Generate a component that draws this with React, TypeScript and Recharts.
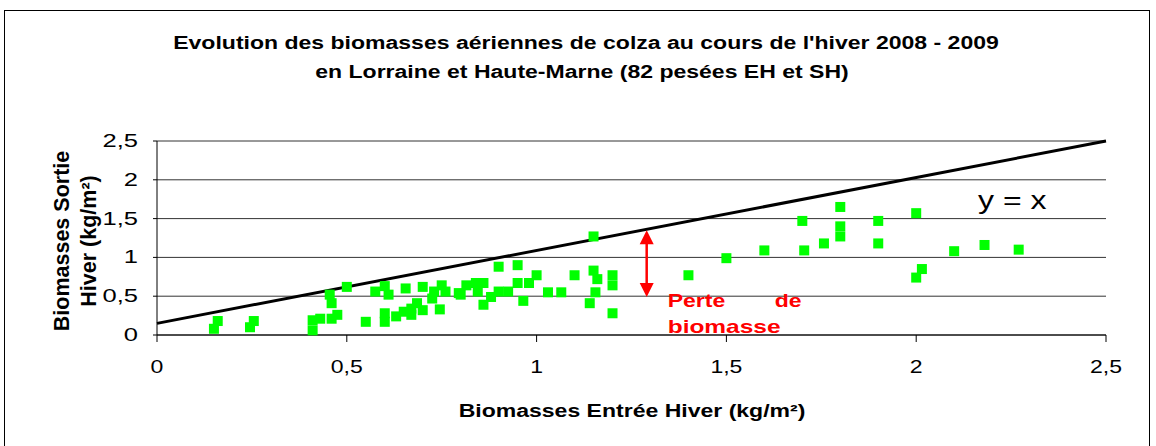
import * as React from 'react';
import {ScatterChart, Scatter, CartesianGrid, XAxis, YAxis, ReferenceLine} from "recharts";

// pesées : biomasse entrée hiver (x) / sortie hiver (y), kg/m²
const entreeHiver: number[] = [
    0.15, 0.16, 0.245, 0.255,
    0.41, 0.41, 0.43, 0.455, 0.46, 0.46, 0.475, 0.50, 0.55, 0.575, 0.60, 0.61, 0.60, 0.60,
    0.63, 0.655, 0.65, 0.67, 0.67, 0.70, 0.70, 0.725, 0.73, 0.75, 0.76, 0.745, 0.685,
    0.795, 0.80, 0.815, 0.84, 0.845, 0.86, 0.86, 0.88, 0.90, 0.90, 0.925, 0.95, 0.95, 0.965,
    0.98, 1.00, 1.03, 1.065, 1.10, 1.15, 1.16, 1.155, 1.14,
    1.15, 1.20, 1.20, 1.20, 1.40, 1.50,
    1.60, 1.70, 1.705, 1.757, 1.80, 1.80, 1.80, 1.90, 1.90,
    2.00, 2.00, 2.015, 2.10, 2.18, 2.27,
];
const sortieHiver: number[] = [
    0.08, 0.18, 0.10, 0.18,
    0.06, 0.19, 0.21, 0.52, 0.41, 0.21, 0.26, 0.62, 0.17, 0.56, 0.63, 0.52, 0.28, 0.17,
    0.24, 0.60, 0.30, 0.34, 0.26, 0.62, 0.32, 0.47, 0.56, 0.64, 0.56, 0.33, 0.41,
    0.54, 0.52, 0.64, 0.67, 0.56, 0.67, 0.39, 0.49, 0.88, 0.56, 0.56, 0.90, 0.67, 0.44,
    0.67, 0.77, 0.55, 0.55, 0.77, 0.83, 0.72, 0.55, 0.41,
    1.27, 0.77, 0.64, 0.28, 0.77, 0.99,
    1.09, 1.47, 1.09, 1.18, 1.65, 1.40, 1.27, 1.47, 1.18,
    1.57, 0.74, 0.85, 1.08, 1.16, 1.10,
];

const axisTicks = [0, 0.5, 1, 1.5, 2, 2.5];
// droite tracée "y = x"
const droiteX = [0, 2.5];
const droiteY = [0.15, 2.5];
// flèche perte de biomasse
const flecheX = 1.29;
const flecheY = [0.49, 1.35];

const fmt = (v: number) => String(v).replace('.', ',');

const FONT = '"Liberation Sans", Arial, sans-serif';
const SX = 1.28; // le texte de l'original est étiré horizontalement

// texte étiré en largeur autour de son point d'ancrage
function Txt(props: any) {
    const {x, y, sx = SX, anchor = 'start', size = 18, bold = false, color = '#000', children} = props;
    return (
        <text transform={`translate(${x},${y}) scale(${sx},1)`} textAnchor={anchor} fontSize={size}
              fontFamily={FONT} fontWeight={bold ? 'bold' : 'normal'} fill={color}>{children}</text>
    );
}

function XTick(props: any) {
    const {x, y, payload} = props;
    return <Txt x={x} y={y + 17} anchor="middle" size={18}>{fmt(payload.value)}</Txt>;
}

function YTick(props: any) {
    const {x, y, payload} = props;
    return <Txt x={x} y={y + 6} anchor="end" size={18} sx={1.42}>{fmt(payload.value)}</Txt>;
}

function Carre(props: any) {
    const {cx, cy} = props;
    return <rect x={cx - 5} y={cy - 5} width={10} height={10} fill="#00ff00"/>;
}

function Fleche(props: any) {
    const {x1, y1, x2, y2} = props;
    const top = Math.min(y1, y2);
    const bottom = Math.max(y1, y2);
    const x = x1;
    return (
        <g>
            <line x1={x} y1={top + 12} x2={x} y2={bottom - 12} stroke="#ff0000" strokeWidth={2.5}/>
            <polygon points={`${x},${top} ${x - 7},${top + 14} ${x + 7},${top + 14}`} fill="#ff0000"/>
            <polygon points={`${x},${bottom} ${x - 7},${bottom - 14} ${x + 7},${bottom - 14}`} fill="#ff0000"/>
            <Txt x={x + 21} y={bottom + 10} bold color="#ff0000">Perte</Txt>
            <Txt x={x + 128} y={bottom + 10} bold color="#ff0000">de</Txt>
            <Txt x={x + 21} y={bottom + 36} bold color="#ff0000" sx={1.36}>biomasse</Txt>
        </g>
    );
}

export default function App() {
    const data = entreeHiver.map((x, i) => ({x: x, y: sortieHiver[i]}));

    return (
        <div style={{position: 'absolute', left: 0, top: 0, width: 1156, height: 446, background: '#fff', fontFamily: FONT}}>
            <div style={{position: 'absolute', left: 4, top: 10, width: 1146, height: 440, borderTop: '1px solid #000',
                borderLeft: '1px solid #000', borderRight: '1px solid #000', boxSizing: 'border-box'}}/>
            <ScatterChart width={1156} height={446} margin={{top: 141, right: 50, bottom: 71, left: 97}}>
                <CartesianGrid vertical={false} stroke="#333" strokeWidth={1}/>
                <XAxis type="number" dataKey="x" domain={[0, 2.5]} ticks={axisTicks}
                       stroke="#000" tickSize={7} tickMargin={14} height={40} tick={<XTick/>}/>
                <YAxis type="number" dataKey="y" domain={[0, 2.5]} ticks={axisTicks}
                       stroke="#000" tickSize={4} tickMargin={15} width={60} tick={<YTick/>}/>
                <Scatter data={data} fill="#00ff00" shape={<Carre/>} isAnimationActive={false}/>
                <ReferenceLine segment={[{x: droiteX[0], y: droiteY[0]}, {x: droiteX[1], y: droiteY[1]}]}
                               stroke="#000" strokeWidth={3} ifOverflow="visible"/>
                <ReferenceLine segment={[{x: flecheX, y: flecheY[0]}, {x: flecheX, y: flecheY[1]}]}
                               ifOverflow="visible" shape={(p: any) => <Fleche {...p}/>}/>
            </ScatterChart>
            <svg width={1156} height={446} style={{position: 'absolute', left: 0, top: 0, pointerEvents: 'none'}}>
                <Txt x={586} y={49} anchor="middle" bold>Evolution des biomasses aériennes de colza au cours de l'hiver 2008 - 2009</Txt>
                <Txt x={582} y={78} anchor="middle" bold>en Lorraine et Haute-Marne (82 pesées EH et SH)</Txt>
                <Txt x={632} y={417} anchor="middle" bold>Biomasses Entrée Hiver (kg/m²)</Txt>
                <text transform="translate(69,241) rotate(-90)" textAnchor="middle" fontSize={21.5}
                      fontFamily={FONT} fontWeight="bold">Biomasses Sortie</text>
                <text transform="translate(96,241) rotate(-90)" textAnchor="middle" fontSize={21.5}
                      fontFamily={FONT} fontWeight="bold">Hiver (kg/m²)</text>
                <Txt x={978} y={209} size={25}>y = x</Txt>
            </svg>
        </div>
    );
}
